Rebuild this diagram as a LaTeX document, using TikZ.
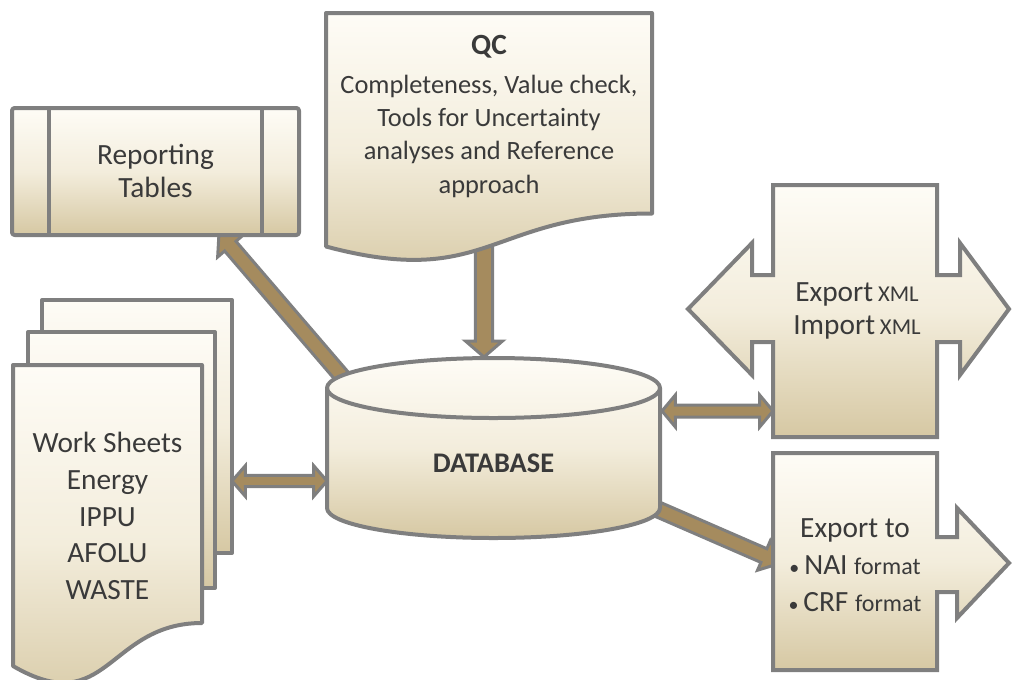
\documentclass[tikz,border=0pt]{standalone}
\usepackage{fontspec}
\setmainfont{Carlito}
\usetikzlibrary{calc}
\definecolor{linegray}{RGB}{127,127,127}
\definecolor{arrowbrown}{RGB}{165,139,94}
\definecolor{txtgray}{RGB}{58,58,58}
\definecolor{shtop}{RGB}{254,252,246}
\definecolor{shmid}{RGB}{243,237,220}
\definecolor{shbot}{RGB}{214,200,163}
\tikzset{
  shapebox/.style={draw=linegray, line width=3pt, line join=round, top color=shtop, bottom color=shbot, middle color=shmid},
  sepline/.style={draw=linegray, line width=3pt},
  arrowstyle/.style={draw=linegray, line width=2.25pt, fill=arrowbrown, line join=miter, miter limit=10},
  txt/.style={text=txtgray, align=center, inner sep=0pt},
}
% single-headed block arrow: start, end, stem half width, head half width, head length
\newcommand{\fatarrow}[5]{%
  \coordinate (fa-b) at ($(#2)!#5!(#1)$);
  \draw[arrowstyle] ($(#1)!#3!90:(#2)$) -- ($(fa-b)!#3!90:(#2)$) -- ($(fa-b)!#4!90:(#2)$) -- (#2)
    -- ($(fa-b)!#4!-90:(#2)$) -- ($(fa-b)!#3!-90:(#2)$) -- ($(#1)!#3!-90:(#2)$) -- cycle;}
% double-headed block arrow
\newcommand{\dfatarrow}[5]{%
  \coordinate (fa-b) at ($(#2)!#5!(#1)$);
  \coordinate (fa-a) at ($(#1)!#5!(#2)$);
  \draw[arrowstyle] (#1) -- ($(fa-a)!#4!90:(#2)$) -- ($(fa-a)!#3!90:(#2)$) -- ($(fa-b)!#3!90:(#2)$)
    -- ($(fa-b)!#4!90:(#2)$) -- (#2) -- ($(fa-b)!#4!-90:(#2)$) -- ($(fa-b)!#3!-90:(#2)$)
    -- ($(fa-a)!#3!-90:(#2)$) -- ($(fa-a)!#4!-90:(#2)$) -- cycle;}
\begin{document}
\begin{tikzpicture}[x=0.75pt, y=-0.75pt]
\useasboundingbox (0,0) rectangle (1013,679);

% connector end points
\coordinate (qc-out) at (484,240);
\coordinate (db-in) at (484,357);
\coordinate (db-nw) at (352,388);
\coordinate (rep-in) at (219,233);
\coordinate (db-se) at (650,506);
\coordinate (exp-in) at (781,563);
\coordinate (ws-out) at (232,481);
\coordinate (db-w) at (327,481);
\coordinate (db-e) at (662,411);
\coordinate (xml-in) at (773,411);

% connectors (drawn first, shapes cover their hidden ends)
\fatarrow{qc-out}{db-in}{6.4pt}{13.9pt}{12pt}
\fatarrow{db-nw}{rep-in}{5.6pt}{12.5pt}{13pt}
\fatarrow{db-se}{exp-in}{5.6pt}{12pt}{14pt}
\dfatarrow{ws-out}{db-w}{4.2pt}{11.5pt}{10pt}
\dfatarrow{db-e}{xml-in}{4.5pt}{12pt}{10pt}

% Reporting tables
\draw[shapebox, rounded corners=2pt] (12,108) rectangle (299,235);
\draw[sepline] (49,108) -- (49,235) (262,108) -- (262,235);
\node[txt, font=\fontsize{22}{24.5}\selectfont] (rep) at (155.5,171) {Reporting\\Tables};

% QC document
\draw[shapebox] (326,13) -- (652,13) -- (652,213.5) .. controls (489,213.5) and (489,290) .. (326,246.5) -- cycle;
\node[txt, font=\fontsize{19.8}{25}\selectfont, anchor=north] (qc) at (489,35)
  {{\fontsize{22}{26}\selectfont\bfseries QC}\\[4pt]Completeness, Value check,\\Tools for Uncertainty\\analyses and Reference\\approach};

% Work sheets stack
\draw[shapebox] (42,300) rectangle (232,553);
\draw[shapebox] (28,332) rectangle (215,588);
\draw[shapebox] (13,365) -- (202,365) -- (202,623) .. controls (107.5,623) and (107.5,721) .. (13,666) -- cycle;
\node[txt, font=\fontsize{22}{27.5}\selectfont] (ws) at (107.5,516) {Work Sheets\\Energy\\IPPU\\AFOLU\\WASTE};

% Database cylinder
\draw[shapebox] (327,388) -- (327,508) arc[start angle=180, end angle=360, x radius=124.875pt, y radius=22.5pt]
  -- (660,388) arc[start angle=0, end angle=180, x radius=124.875pt, y radius=22.5pt] -- cycle;
\draw[sepline] (327,388) arc[start angle=180, end angle=360, x radius=124.875pt, y radius=22.5pt];
\node[txt, font=\fontsize{21.3}{25}\selectfont\bfseries] (db) at (493.5,463) {DATABASE};

% Export / Import XML double arrow
\draw[shapebox, line join=miter] (773,185) -- (937,185) -- (937,275) -- (960,275) -- (960,243) -- (1009,309)
  -- (960,375) -- (960,342) -- (937,342) -- (937,437) -- (773,437) -- (773,342) -- (752,342) -- (752,375)
  -- (688,309) -- (752,243) -- (752,275) -- (773,275) -- cycle;
\node[txt, font=\fontsize{22}{24.75}\selectfont] (xml) at (857,311)
  {Export\,{\fontsize{17}{18}\selectfont XML}\\Import\,{\fontsize{17}{18}\selectfont XML}};

% Export to arrow
\draw[shapebox, line join=miter] (773,453) -- (937,453) -- (937,537) -- (957,537) -- (957,508) -- (1009,563)
  -- (957,618) -- (957,592) -- (937,592) -- (937,670) -- (773,670) -- cycle;
\node[txt, font=\fontsize{22}{27.75}\selectfont] (exp) at (855,565)
  {Export to\\{\fontsize{15}{18}\selectfont\textbullet}\,NAI {\fontsize{18}{20}\selectfont format}\\
   {\fontsize{15}{18}\selectfont\textbullet}\,CRF {\fontsize{18}{20}\selectfont format}};
\end{tikzpicture}
\end{document}
